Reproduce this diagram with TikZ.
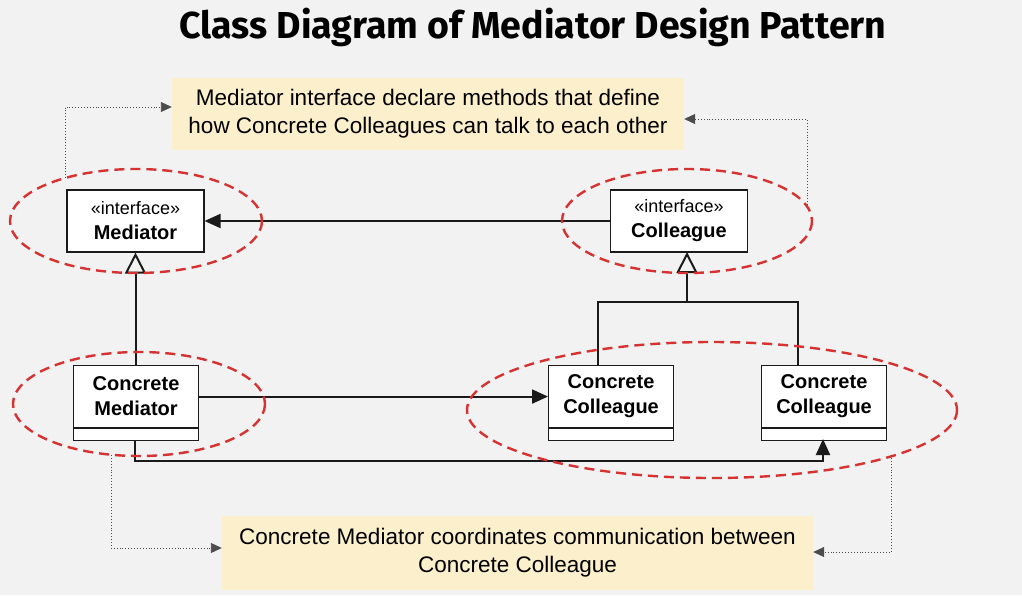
\documentclass[tikz,border=0pt]{standalone}
\usepackage{fontspec}
\setmainfont{Liberation Sans}
\newfontfamily\titlefont{Fira Sans}
\usetikzlibrary{arrows.meta,shapes.geometric,positioning}
\definecolor{bgc}{HTML}{F2F2F2}
\definecolor{notec}{HTML}{FCEFCB}
\definecolor{redc}{HTML}{D63232}
\definecolor{linec}{HTML}{1A1A1A}
\tikzset{
  x=1pt, y=-1pt,
  cls/.style={draw=linec, fill=white, line width=1.1pt, minimum width=137pt, minimum height=62pt, align=center, inner sep=0pt},
  ccls/.style={draw=linec, fill=white, line width=1.1pt, minimum width=125pt, minimum height=62pt, align=center, inner sep=0pt, anchor=north west, font=\fontsize{20}{25}\selectfont\bfseries},
  attr/.style={draw=linec, fill=white, line width=1.1pt, minimum width=125pt, minimum height=12pt, inner sep=0pt, anchor=north},
  note/.style={fill=notec, align=center, inner sep=0pt, font=\fontsize{22.5}{28}\selectfont},
  grp/.style={draw=redc, line width=2.4pt, dash pattern=on 10pt off 6pt},
  assoc/.style={draw=linec, line width=2pt, -{Triangle[length=16pt,width=14pt]}},
  inh/.style={draw=linec, line width=2pt, -{Triangle[open,length=21pt,width=21pt,line width=2pt]}},
  plain/.style={draw=linec, line width=2pt},
  dots/.style={draw=black!70, line width=0.9pt, dotted, -{Triangle[length=11pt,width=10pt]}}
}
\begin{document}
\begin{tikzpicture}
\fill[bgc] (0,0) rectangle (1022,595);
\useasboundingbox (0,0) rectangle (1022,595);
\node[font=\titlefont\fontsize{37.5}{40}\selectfont\bfseries] (title) at (533,27) {Class Diagram of Mediator Design Pattern};
% notes
\node[note, minimum width=512pt, minimum height=72pt] (topnote) at (428,114) {Mediator interface declare methods that define\\how Concrete Colleagues can talk to each other};
\node[note, minimum width=591pt, minimum height=74pt] (botnote) at (517.5,553) {Concrete Mediator coordinates communication between\\Concrete Colleague};
% classes
\node[cls, font=\fontsize{18}{25}\selectfont] (med) at (135.5,221) {«interface»\\{\fontsize{20}{25}\selectfont\bfseries Mediator}};
\node[cls, font=\fontsize{18}{25}\selectfont] (col) at (679,221) {«interface»\\{\fontsize{20}{25}\selectfont\bfseries Colleague}};
\node[ccls] (cmed) at (73,365) {Concrete\\Mediator};
\node[attr] (cmeda) at (cmed.south) {};
\node[ccls] (cc1) at (548,365) {Concrete\\Colleague};
\node[attr] (cc1a) at (cc1.south) {};
\node[ccls] (cc2) at (761,365) {Concrete\\Colleague};
\node[attr] (cc2a) at (cc2.south) {};
% connectors
\draw[assoc] (col.west) -- (med.east);
\draw[inh] (cmed.north -| med.south) -- (med.south);
\coordinate (jn) at (687,302);
\draw[plain] (cc1.north -| 598,0) |- (jn);
\draw[plain] (cc2.north -| 798,0) |- (jn);
\draw[inh] (jn) -- (687,252);
\draw[assoc] (cmed.east) -- (cc1.west);
\coordinate (c2b) at (823,439);
\draw[assoc] (cmeda.south -| 135,0) |- (823,461) -- (c2b);
% groups
\draw[grp] (136,221) ellipse [x radius=126, y radius=52];
\draw[grp] (687,221) ellipse [x radius=125, y radius=52];
\draw[grp] (139,404) ellipse [x radius=126, y radius=52];
\draw[grp] (712,410) ellipse [x radius=245, y radius=68];
% dotted callouts
\coordinate (g1) at (65,178);
\coordinate (g2) at (807,205);
\coordinate (g3) at (111,455);
\coordinate (g4) at (891,455);
\draw[dots] (g1) |- (topnote.west |- 0,107);
\draw[dots] (g2) |- (topnote.east |- 0,119);
\draw[dots] (g3) |- (botnote.west |- 0,548);
\draw[dots] (g4) |- (botnote.east |- 0,552);
\end{tikzpicture}
\end{document}
